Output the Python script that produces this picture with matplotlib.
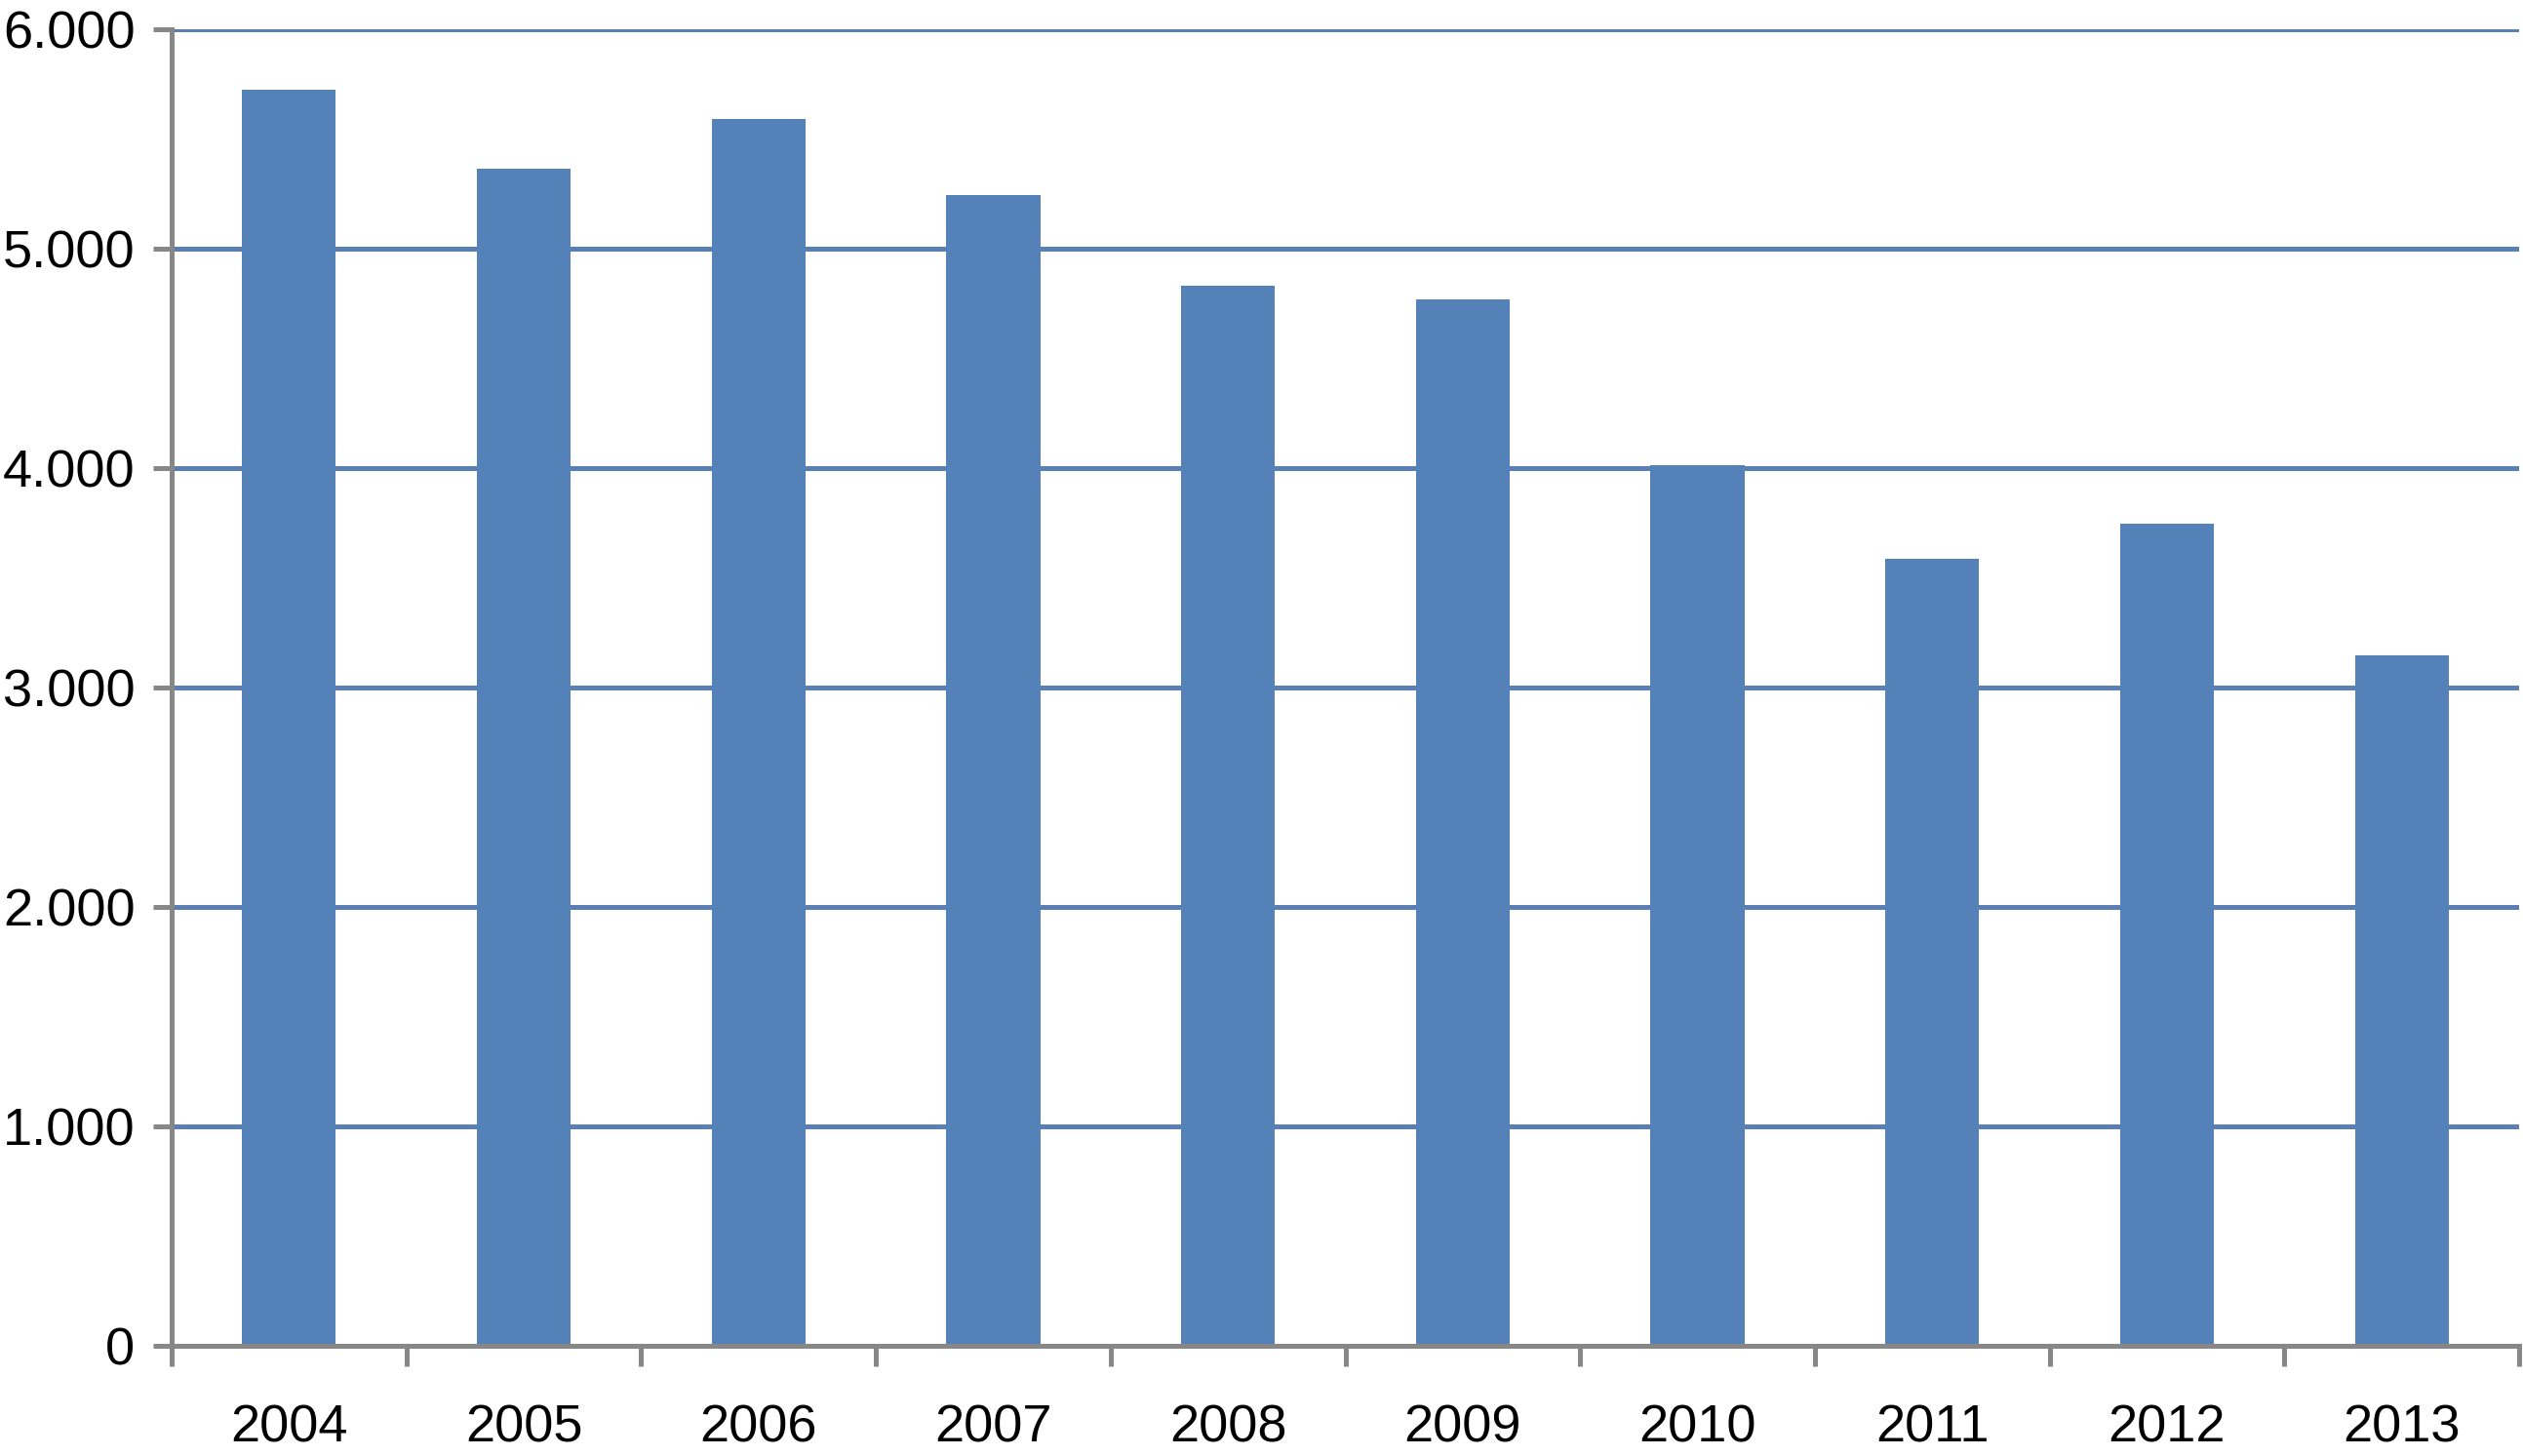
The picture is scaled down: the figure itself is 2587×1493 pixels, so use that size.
import matplotlib
matplotlib.use("Agg")
import matplotlib.pyplot as plt
import numpy as np
from matplotlib.ticker import FuncFormatter, FixedLocator

years = ["2004", "2005", "2006", "2007", "2008", "2009", "2010", "2011", "2012", "2013"]
values = [5723, 5363, 5590, 5243, 4833, 4768, 4013, 3588, 3748, 3148]
yticks = [0, 1000, 2000, 3000, 4000, 5000, 6000]

plt.rcParams['font.family'] = ['Liberation Sans', 'DejaVu Sans']

W, H, DPI = 2587, 1493, 100
fig = plt.figure(figsize=(W / DPI, H / DPI), dpi=DPI)
left, right, top, bottom = 176, 2583, 30, 1380
ax = fig.add_axes([left / W, 1 - bottom / H, (right - left) / W, (bottom - top) / H])

bar_color = "#5581B9"
grid_color = "#5A7FB5"
axis_gray = "#878787"

x = np.arange(len(years))
ax.bar(x, values, width=0.4, color=bar_color, zorder=3)

ax.set_xlim(-0.5, len(years) - 0.5)
ax.set_ylim(0, 6000)
ax.set_yticks(yticks)
ax.yaxis.set_major_formatter(FuncFormatter(lambda v, p: f"{int(v):,}".replace(",", ".")))
ax.set_xticks(x)
ax.set_xticklabels(years)
ax.xaxis.set_minor_locator(FixedLocator(np.arange(-0.5, len(years), 1.0)))

ax.grid(axis="y", color=grid_color, linewidth=3.6, zorder=1)
ax.set_axisbelow(True)

for s in ["top", "right"]:
    ax.spines[s].set_visible(False)
for s in ["left", "bottom"]:
    ax.spines[s].set_color(axis_gray)
    ax.spines[s].set_linewidth(3.6)
    ax.spines[s].set_zorder(4)

ax.tick_params(axis="y", length=14, width=3.6, color=axis_gray, labelsize=39, pad=13, labelcolor="black")
ax.tick_params(axis="x", which="major", length=0, labelsize=39, pad=43, labelcolor="black")
ax.tick_params(axis="x", which="minor", length=15, width=3.6, color=axis_gray)

fig.savefig("out.png", dpi=DPI, facecolor="white")
